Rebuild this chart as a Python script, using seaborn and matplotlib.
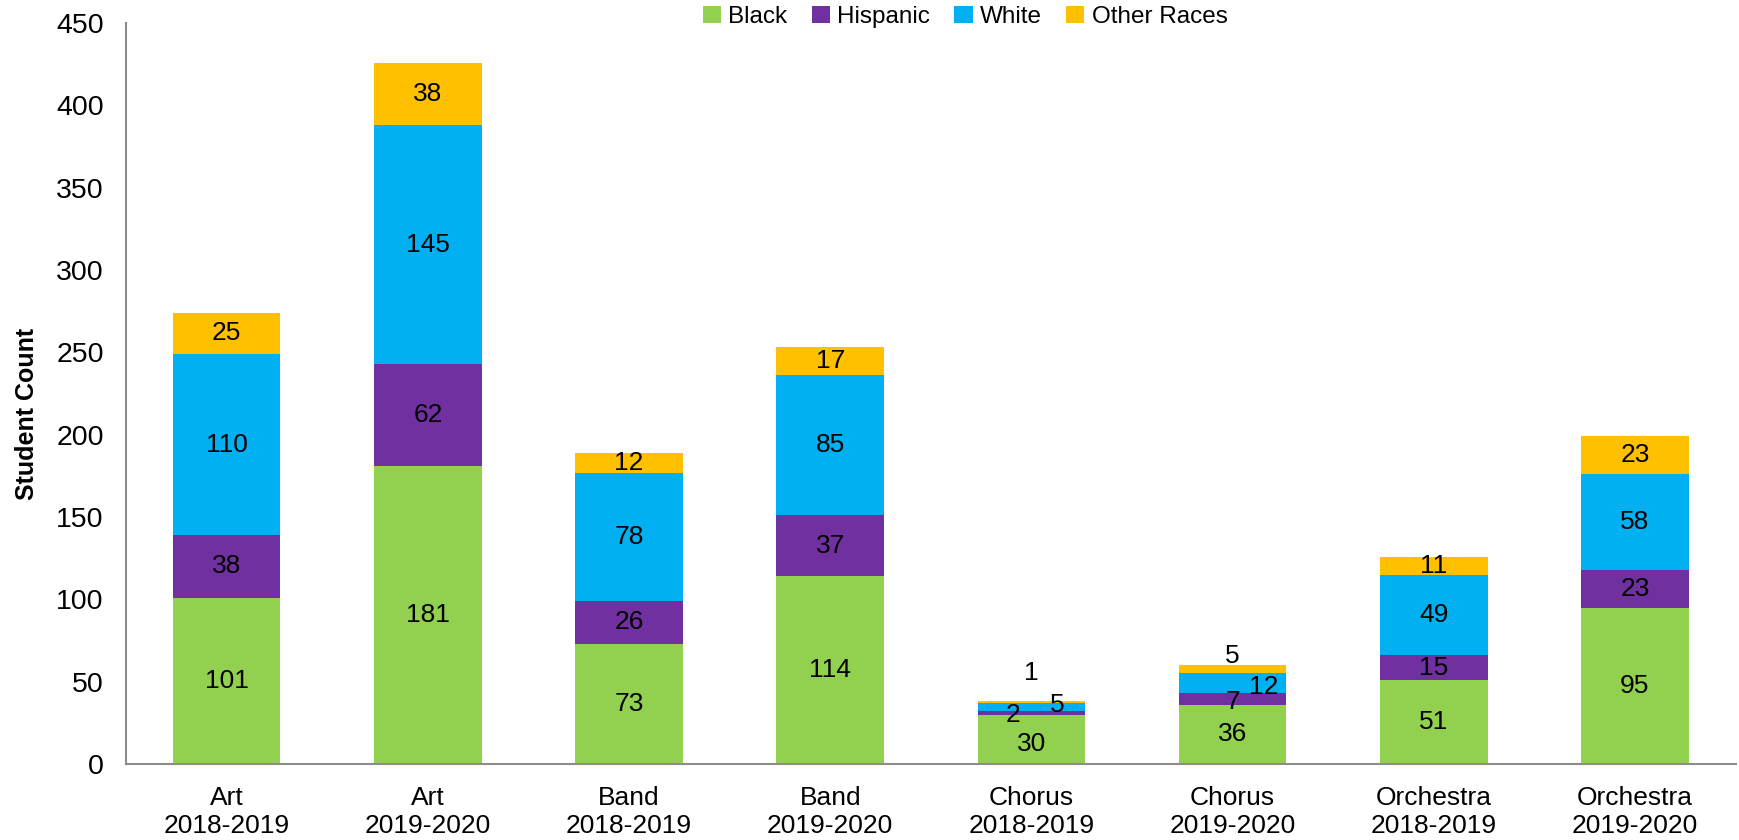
import numpy as np
import pandas as pd
import seaborn as sns
import matplotlib.pyplot as plt

categories = ['Art\n2018-2019', 'Art\n2019-2020', 'Band\n2018-2019', 'Band\n2019-2020',
              'Chorus\n2018-2019', 'Chorus\n2019-2020', 'Orchestra\n2018-2019', 'Orchestra\n2019-2020']
black = [101, 181, 73, 114, 30, 36, 51, 95]
hispanic = [38, 62, 26, 37, 2, 7, 15, 23]
white = [110, 145, 78, 85, 5, 12, 49, 58]
other = [25, 38, 12, 17, 1, 5, 11, 23]

series = [('Black', black, '#92D050'),
          ('Hispanic', hispanic, '#7030A0'),
          ('White', white, '#00B0F0'),
          ('Other Races', other, '#FFC000')]

# label nudges (x offset, y position) for the crowded chorus bars
nudges = {(4, 'Black'): (0, 12), (4, 'Hispanic'): (-0.09, 30),
          (4, 'White'): (0.127, 36), (4, 'Other Races'): (0, 55),
          (5, 'White'): (0.155, 46.5), (5, 'Other Races'): (0, 65.5),
          (5, 'Hispanic'): (0, 37.5)}

sns.set_style('white')
plt.rcParams['font.family'] = ['Liberation Sans', 'DejaVu Sans']
plt.rcParams['text.color'] = 'black'
plt.rcParams['xtick.color'] = 'black'
plt.rcParams['ytick.color'] = 'black'
plt.rcParams['axes.labelcolor'] = 'black'

fig = plt.figure(figsize=(17.39, 8.4), dpi=100)
ax = fig.add_axes([0.0725, 0.0905, 0.9255, 0.882])

bottom = np.zeros(len(categories))
for name, vals, color in series:
    df = pd.DataFrame({'cat': categories, 'val': vals})
    sns.barplot(data=df, x='cat', y='val', color=color, bottom=bottom, width=0.535,
                ax=ax, label=name, saturation=1, linewidth=0)
    for i, v in enumerate(vals):
        x, y = i, bottom[i] + v / 2
        if (i, name) in nudges:
            dx, y = nudges[(i, name)]
            x = i + dx
        ax.text(x, y, str(v), ha='center', va='center', fontsize=19)
    bottom += np.array(vals)

ax.set_xlim(-0.5, 7.5)
ax.set_ylim(0, 450)
ax.set_yticks(range(0, 451, 50))
ax.tick_params(axis='both', length=0)
ax.tick_params(axis='y', pad=16, labelsize=20.5)
ax.tick_params(axis='x', pad=16, labelsize=19)
ax.set_xlabel('')
ax.set_ylabel('Student Count', fontsize=18, fontweight='bold')
ax.yaxis.set_label_coords(-0.054, 0.473)
for s in ['top', 'right']:
    ax.spines[s].set_visible(False)
for s in ['left', 'bottom']:
    ax.spines[s].set_color('#8C8C8C')
    ax.spines[s].set_linewidth(1.5)

ax.legend(loc='center', bbox_to_anchor=(0.555, 0.98), bbox_transform=fig.transFigure,
          ncol=4, frameon=False, fontsize=17.5, handlelength=0.75, handleheight=0.75,
          handletextpad=0.3, columnspacing=1.0, borderaxespad=0)

fig.savefig('out.png', dpi=100)
